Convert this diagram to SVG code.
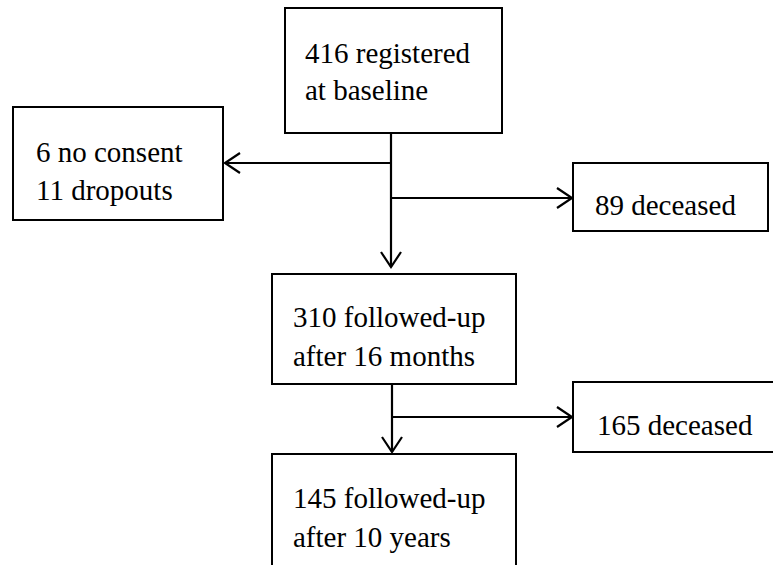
<svg xmlns="http://www.w3.org/2000/svg" width="773" height="565" viewBox="0 0 773 565">
<style>
.box{fill:#fff;stroke:#000;stroke-width:2}
.t{font-size:29px;fill:#000}
.c{fill:none;stroke:#000;stroke-width:2.2}
.h{fill:none;stroke:#000;stroke-width:2.2;stroke-linejoin:miter}
</style>
<rect width="773" height="565" fill="#fff"/>
<g font-family="Liberation Serif, Times New Roman, serif">
<g id="n1"><rect class="box" x="285" y="8" width="217" height="125"/>
<text class="t" x="305" y="63">416 registered</text><text class="t" x="305" y="100">at baseline</text></g>
<g id="n2"><rect class="box" x="13" y="107" width="210" height="113"/>
<text class="t" x="36" y="162">6 no consent</text><text class="t" x="36" y="200">11 dropouts</text></g>
<g id="n3"><rect class="box" x="573" y="163" width="195" height="68"/>
<text class="t" x="595" y="215">89 deceased</text></g>
<g id="n4"><rect class="box" x="272" y="274" width="244" height="110"/>
<text class="t" x="293" y="327">310 followed-up</text><text class="t" x="293" y="366">after 16 months</text></g>
<g id="n5"><rect class="box" x="573" y="382" width="210" height="70"/>
<text class="t" x="597" y="435">165 deceased</text></g>
<g id="n6"><rect class="box" x="272" y="454" width="244" height="130"/>
<text class="t" x="293" y="508">145 followed-up</text><text class="t" x="293" y="547">after 10 years</text></g>
</g>
<g id="connectors">
<path class="c" d="M391 133V267M391 163H225M391 198H572"/>
<path class="h" d="M381 252L391 267L401 252M240 153L225 163L240 173M557 188L572 198L557 208"/>
<path class="c" d="M392 384V452M392 417H572"/>
<path class="h" d="M382 437L392 452L402 437M557 407L572 417L557 427"/>
</g>
</svg>
